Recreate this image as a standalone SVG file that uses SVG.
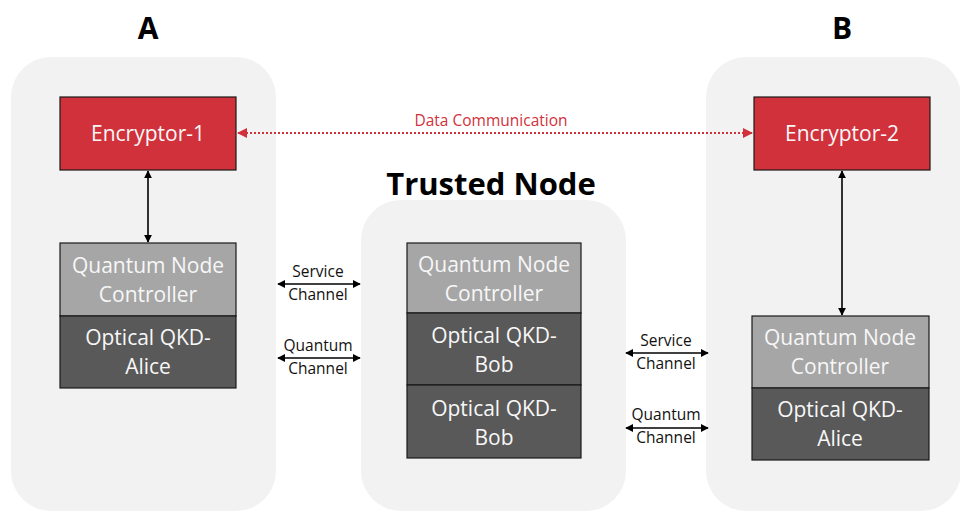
<svg xmlns="http://www.w3.org/2000/svg" width="960" height="511" viewBox="0 0 960 511">
<defs>
<style>
.panel{fill:#f2f2f2}
.enc{fill:#d1313b;stroke:#1a1a1a;stroke-width:1.2}
.qnc{fill:#a6a6a6;stroke:#1a1a1a;stroke-width:1.2}
.opt{fill:#595959;stroke:#1a1a1a;stroke-width:1.2}
.bt{font-family:"Open Sans",sans-serif;font-size:21px;fill:#f7f7f7;text-anchor:middle}
.lbl{font-family:"Open Sans",sans-serif;font-size:15.5px;fill:#111;text-anchor:middle}
.title{font-family:"Open Sans",sans-serif;font-weight:bold;fill:#000;text-anchor:middle}
.conn{stroke:#000;stroke-width:1.6;fill:none}
.data{stroke:#d1313b;stroke-width:2;stroke-dasharray:2 2;fill:none}
</style>
<marker id="ah" viewBox="0 0 10 10" refX="9" refY="5" markerWidth="5" markerHeight="5" orient="auto-start-reverse" markerUnits="strokeWidth"><path d="M0,0L10,5L0,10z" fill="#000"/></marker>
<marker id="ahr" viewBox="0 0 10 10" refX="9" refY="5" markerWidth="5" markerHeight="5" orient="auto-start-reverse" markerUnits="strokeWidth"><path d="M0,0L10,5L0,10z" fill="#d1313b"/></marker>
</defs>
<rect width="960" height="511" fill="#fff"/>
<g id="panel-A">
<rect class="panel" x="11" y="57" width="265" height="454" rx="40"/>
<text class="title" x="148" y="39" font-size="30">A</text>
</g>
<g id="panel-trusted">
<rect class="panel" x="361" y="200" width="265" height="311" rx="40"/>
<text class="title" x="491" y="195" font-size="31">Trusted Node</text>
</g>
<g id="panel-B">
<rect class="panel" x="706" y="57" width="255" height="454" rx="40"/>
<text class="title" x="842" y="39" font-size="30">B</text>
</g>
<g id="encryptor-1">
<rect class="enc" x="60" y="97" width="176" height="73"/>
<text class="bt" x="148" y="141">Encryptor-1</text>
</g>
<g id="encryptor-2">
<rect class="enc" x="754" y="97" width="176" height="73"/>
<text class="bt" x="842" y="141">Encryptor-2</text>
</g>
<g id="qnc-A">
<rect class="qnc" x="60" y="243" width="176" height="73"/>
<text class="bt" x="148" y="273">Quantum Node</text>
<text class="bt" x="148" y="302">Controller</text>
</g>
<g id="qkd-alice-A">
<rect class="opt" x="60" y="316" width="176" height="72"/>
<text class="bt" x="148" y="345">Optical QKD-</text>
<text class="bt" x="148" y="374">Alice</text>
</g>
<g id="qnc-T">
<rect class="qnc" x="407" y="243" width="174" height="70"/>
<text class="bt" x="494" y="272">Quantum Node</text>
<text class="bt" x="494" y="301">Controller</text>
</g>
<g id="qkd-bob-1">
<rect class="opt" x="407" y="313" width="174" height="72"/>
<text class="bt" x="494" y="343">Optical QKD-</text>
<text class="bt" x="494" y="372">Bob</text>
</g>
<g id="qkd-bob-2">
<rect class="opt" x="407" y="385" width="174" height="73"/>
<text class="bt" x="494" y="416">Optical QKD-</text>
<text class="bt" x="494" y="445">Bob</text>
</g>
<g id="qnc-B">
<rect class="qnc" x="752" y="316" width="177" height="72"/>
<text class="bt" x="840" y="345">Quantum Node</text>
<text class="bt" x="840" y="374">Controller</text>
</g>
<g id="qkd-alice-B">
<rect class="opt" x="752" y="388" width="177" height="72"/>
<text class="bt" x="840" y="417">Optical QKD-</text>
<text class="bt" x="840" y="446">Alice</text>
</g>
<g id="connectors">
<line class="data" x1="238" y1="133" x2="752" y2="133" marker-start="url(#ahr)" marker-end="url(#ahr)"/>
<text class="lbl" x="491" y="126" style="fill:#d1313b">Data Communication</text>
<line class="conn" x1="148" y1="171" x2="148" y2="242" marker-start="url(#ah)" marker-end="url(#ah)"/>
<line class="conn" x1="842" y1="171" x2="842" y2="315" marker-start="url(#ah)" marker-end="url(#ah)"/>
<line class="conn" x1="278" y1="284" x2="360" y2="284" marker-start="url(#ah)" marker-end="url(#ah)"/>
<text class="lbl" x="318" y="277">Service</text>
<text class="lbl" x="318" y="300">Channel</text>
<line class="conn" x1="278" y1="358" x2="360" y2="358" marker-start="url(#ah)" marker-end="url(#ah)"/>
<text class="lbl" x="318" y="351">Quantum</text>
<text class="lbl" x="318" y="374">Channel</text>
<line class="conn" x1="626" y1="353" x2="708" y2="353" marker-start="url(#ah)" marker-end="url(#ah)"/>
<text class="lbl" x="666" y="346">Service</text>
<text class="lbl" x="666" y="369">Channel</text>
<line class="conn" x1="626" y1="428" x2="708" y2="428" marker-start="url(#ah)" marker-end="url(#ah)"/>
<text class="lbl" x="666" y="420">Quantum</text>
<text class="lbl" x="666" y="443">Channel</text>
</g>
</svg>
